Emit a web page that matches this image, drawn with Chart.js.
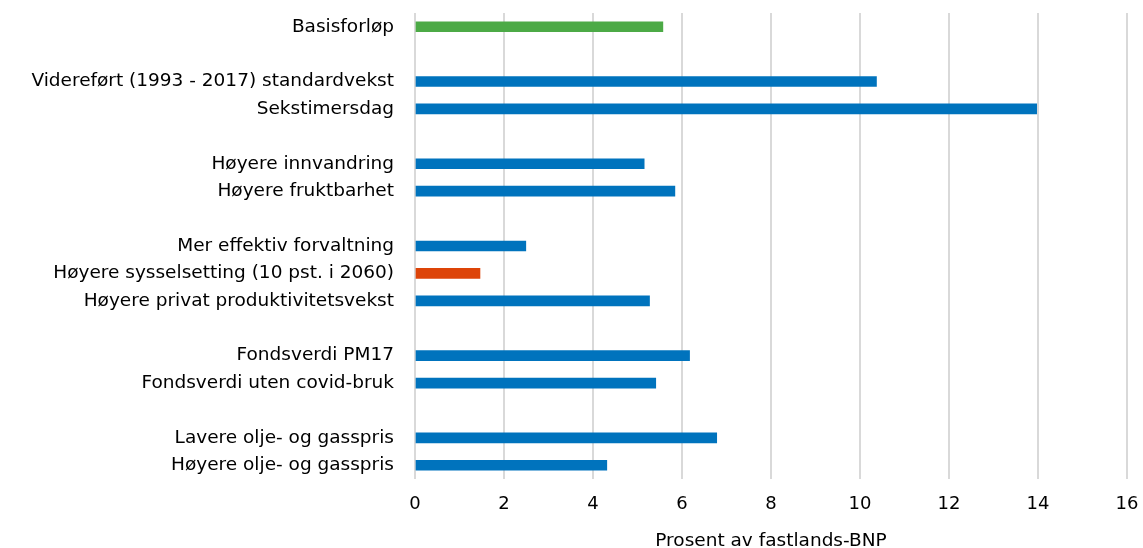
<!DOCTYPE html>
<html>
<head>
<meta charset="utf-8">
<script src="https://cdn.jsdelivr.net/npm/chart.js@4"></script>
<style>
  html, body { margin: 0; padding: 0; background: #ffffff; }
  #wrap { width: 1143px; height: 548px; position: relative; }
</style>
</head>
<body>
<div id="wrap"><canvas id="c"></canvas></div>
<script>
// Scenario labels (empty strings are spacer rows between groups)
const categories = [
  "Basisforløp",
  "",
  "Videreført (1993 - 2017) standardvekst",
  "Sekstimersdag",
  "",
  "Høyere innvandring",
  "Høyere fruktbarhet",
  "",
  "Mer effektiv forvaltning",
  "Høyere sysselsetting (10 pst. i 2060)",
  "Høyere privat produktivitetsvekst",
  "",
  "Fondsverdi PM17",
  "Fondsverdi uten covid-bruk",
  "",
  "Lavere olje- og gasspris",
  "Høyere olje- og gasspris"
];

// Percent of mainland GDP
const values = [5.57, null, 10.37, 13.97, null, 5.15, 5.84, null, 2.49, 1.46, 5.27, null, 6.17, 5.41, null, 6.78, 4.31];

const xTicks = [0, 2, 4, 6, 8, 10, 12, 14, 16];

const GREEN = "#4caa46";
const BLUE = "#0073bd";
const ORANGE = "#dd4408";
const barColors = categories.map((c, i) =>
  i === 0 ? GREEN : (c.startsWith("Høyere sysselsetting") ? ORANGE : BLUE));

const FONT = "'DejaVu Sans', sans-serif";

new Chart(document.getElementById("c"), {
  type: "bar",
  data: {
    labels: categories,
    datasets: [{
      data: values,
      backgroundColor: barColors,
      borderWidth: 0,
      barThickness: 10
    }]
  },
  options: {
    indexAxis: "y",
    responsive: true,
    maintainAspectRatio: false,
    animation: false,
    layout: { padding: { left: 0, right: 16, top: 13, bottom: 0 } },
    plugins: { legend: { display: false }, tooltip: { enabled: false } },
    scales: {
      x: {
        min: 0,
        max: 16,
        afterBuildTicks: (s) => { s.ticks = xTicks.map(v => ({ value: v })); },
        grid: { color: "#d9d9d9", lineWidth: 2, drawTicks: false },
        border: { display: false },
        ticks: { color: "#000", font: { family: FONT, size: 18 }, padding: 15 },
        title: {
          display: true,
          text: "Prosent av fastlands-BNP",
          color: "#000",
          font: { family: FONT, size: 18.5, lineHeight: 1.0 },
          padding: { top: 10, bottom: -2 }
        },
        afterFit: (s) => { s.height = 69; s.paddingLeft = 0; s.paddingRight = 0; }
      },
      y: {
        grid: { display: false, drawTicks: false },
        border: { display: false },
        ticks: { color: "#000", font: { family: FONT, size: 18.5 }, padding: 21, autoSkip: false },
        afterFit: (s) => { s.width = 415; s.paddingTop = 0; s.paddingBottom = 0; }
      }
    }
  }
});
</script>
</body>
</html>
